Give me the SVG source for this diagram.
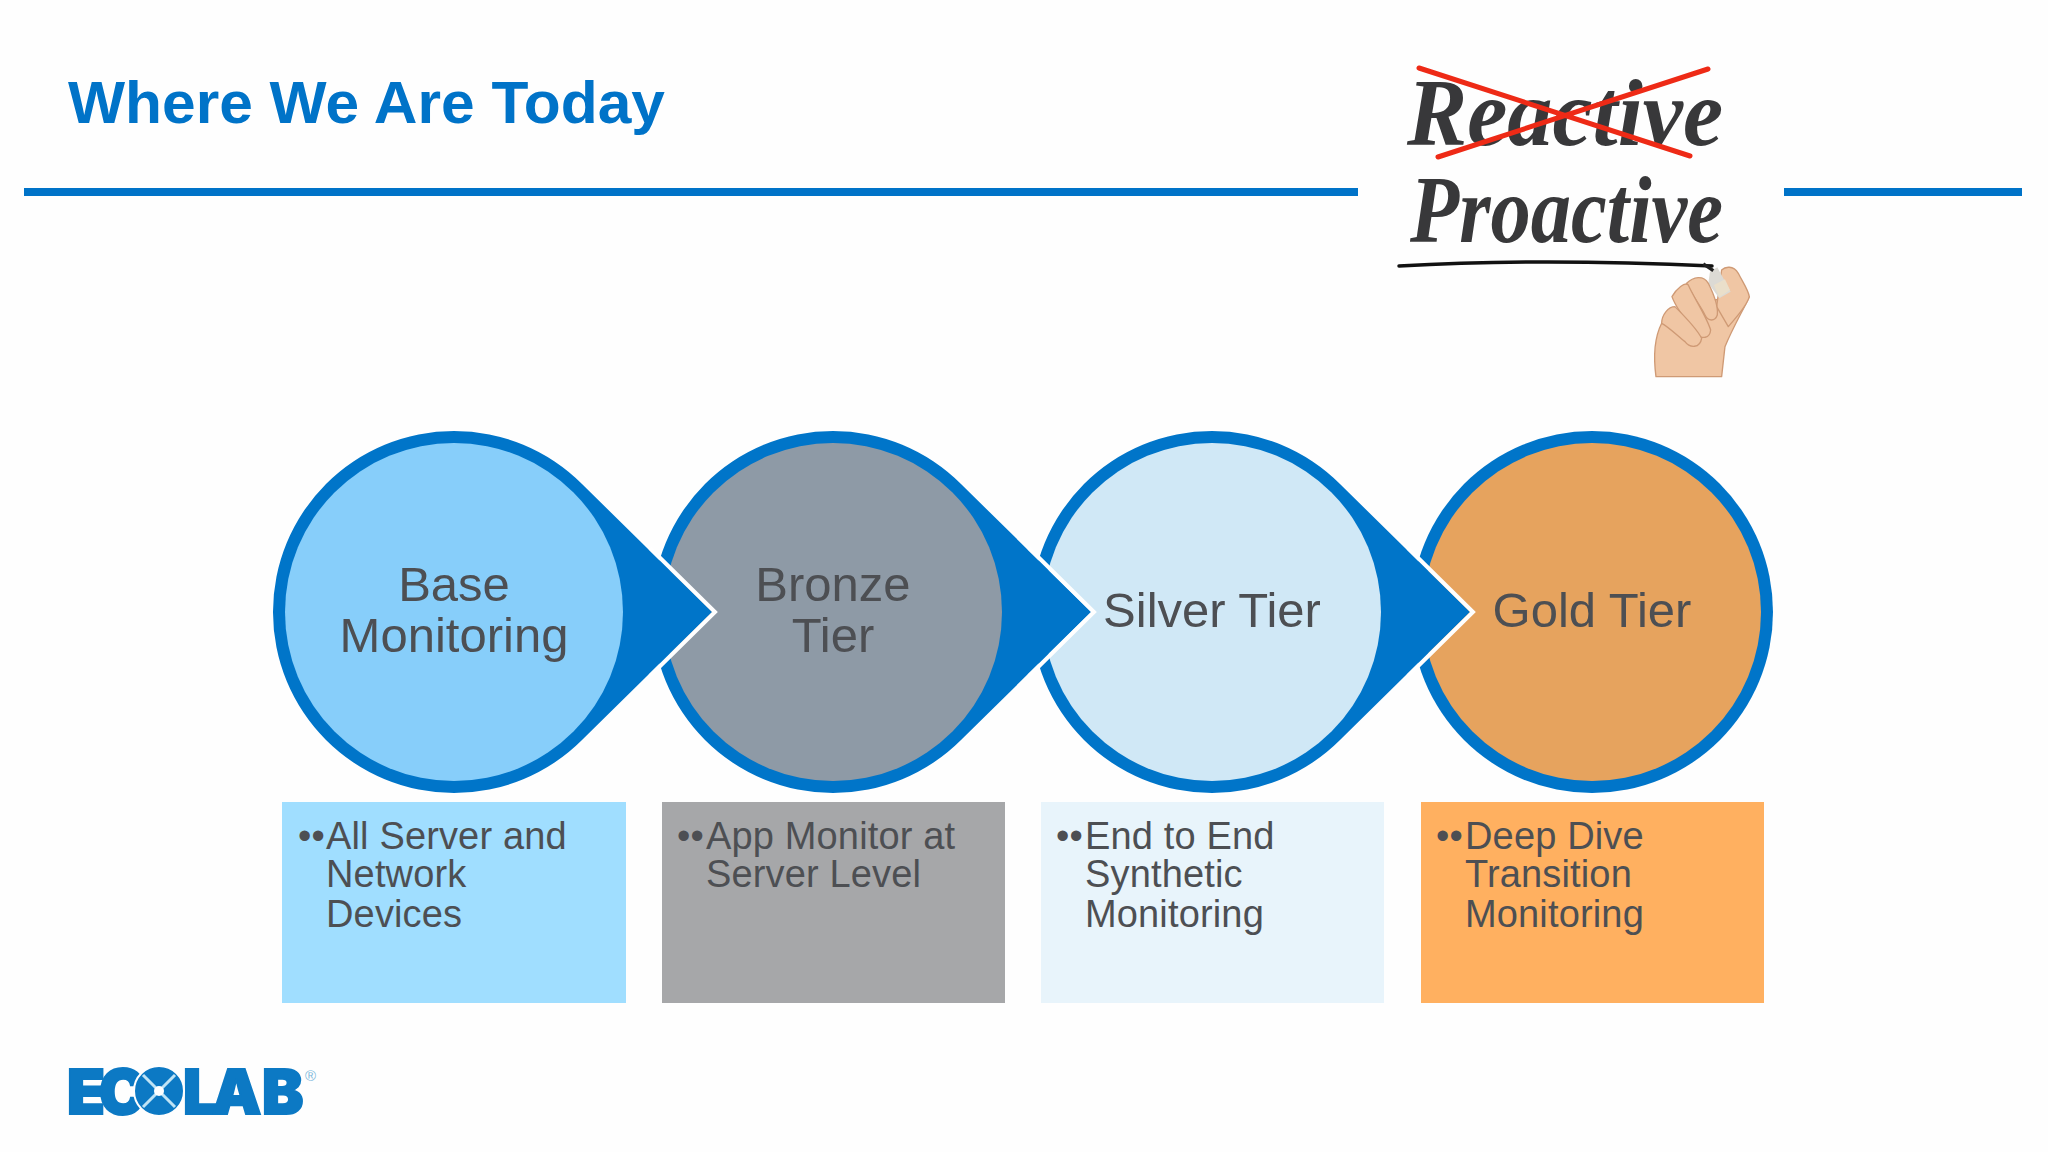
<svg xmlns="http://www.w3.org/2000/svg" width="2048" height="1152" viewBox="0 0 2048 1152">
<defs>
<path id="drop" d="M712 612 L582 740 A181 181 0 1 1 582 484 Z"/>
<path id="edge" d="M650 548 L715 612 L650 676" fill="none"/>
</defs>
<style>
text{font-family:"Liberation Sans",Arial,sans-serif;fill:#4d4f53}
.title{font-size:60px;font-weight:700;fill:#0073c8}
.rule{fill:#0073c8}
.drop{fill:#0075c9}
.edge{stroke:#fff;stroke-width:4;stroke-linejoin:miter;fill:none}
.c{font-size:49px;text-anchor:middle}
.b{font-size:38px;letter-spacing:.15px}
.hw{font-family:"Liberation Serif",serif;font-style:italic;font-weight:700;font-size:96px;fill:#38383a}
.cross{stroke:#ee2a16;stroke-width:5;stroke-linecap:round;fill:none}
.logo{font-family:Inter,"Liberation Sans",sans-serif;font-weight:900;font-size:62px;fill:#0c79c4;stroke:#0c79c4;stroke-width:2}
.skin{fill:#f0c6a4;stroke:#cf9a75;stroke-width:4;stroke-linejoin:round}
</style>
<rect width="2048" height="1152" fill="#fefefe"/>
<g id="header">
<text class="title" x="68" y="123" textLength="597" lengthAdjust="spacingAndGlyphs">Where We Are Today</text>
<rect class="rule" x="24" y="188" width="1334" height="8"/>
<rect class="rule" x="1784" y="188" width="238" height="8"/>
</g>
<g id="picture">
<text class="hw" x="1407" y="145" textLength="316" lengthAdjust="spacingAndGlyphs">Reactive</text>
<path class="cross" d="M1419 68 L1690 156 M1438 157 L1708 69"/>
<text class="hw" x="1410" y="242" textLength="313" lengthAdjust="spacingAndGlyphs">Proactive</text>
<path d="M1399 266 Q1540 258 1712 266" fill="none" stroke="#111" stroke-width="3.5" stroke-linecap="round"/>
<g transform="translate(1360 40) scale(.3333)">
<path class="skin" d="M888 1010 C880 950 885 890 905 850 L1060 780 L1168 770 C1150 810 1120 860 1095 920 L1085 1010 Z" stroke="none"/>
<path class="skin" d="M1085 690 C1095 680 1120 675 1135 700 C1150 730 1165 750 1168 770 C1160 800 1130 830 1105 860 L1070 800 Z"/>
<path d="M1050 695 L1072 682 L1112 755 L1078 775 L1045 730 Z" fill="#dcdad4"/>
<path d="M1062 735 L1095 718 L1110 750 L1078 772 Z" fill="#eadfca"/>
<path d="M1030 672 L1060 692" stroke="#222" stroke-width="10"/>
<path class="skin" d="M980 730 C1000 710 1030 705 1045 730 C1060 760 1075 800 1072 825 C1065 845 1045 845 1035 825 C1020 795 995 765 980 730 Z"/>
<path class="skin" d="M936 770 C950 745 975 725 985 735 C1000 770 1040 830 1052 870 C1050 895 1025 900 1010 880 C985 850 950 810 936 770 Z"/>
<path class="skin" d="M905 850 C905 825 925 800 945 800 C975 830 1015 875 1025 895 C1020 925 990 925 975 905 C950 885 925 860 905 850 Z"/>
</g>
</g>
<g id="node-gold">
<circle cx="1592" cy="612" r="181" fill="#0075c9"/>
<circle cx="1592" cy="612" r="169" fill="#e6a35e"/>
<text class="c" x="1592" y="627">Gold Tier</text>
<rect x="1421" y="802" width="343" height="201" fill="#ffb060"/>
<text class="b" x="1436" y="849">••</text>
<text class="b" x="1465" y="849">Deep Dive</text>
<text class="b" x="1465" y="887">Transition</text>
<text class="b" x="1465" y="927">Monitoring</text>
</g>
<g id="node-silver">
<use href="#drop" class="drop" transform="translate(758 0)"/>
<use href="#edge" class="edge" transform="translate(758 0)"/>
<circle cx="1212" cy="612" r="169" fill="#d0e8f6"/>
<text class="c" x="1212" y="627">Silver Tier</text>
<rect x="1041" y="802" width="343" height="201" fill="#e8f4fb"/>
<text class="b" x="1056" y="849">••</text>
<text class="b" x="1085" y="849">End to End</text>
<text class="b" x="1085" y="887">Synthetic</text>
<text class="b" x="1085" y="927">Monitoring</text>
</g>
<g id="node-bronze">
<use href="#drop" class="drop" transform="translate(379 0)"/>
<use href="#edge" class="edge" transform="translate(379 0)"/>
<circle cx="833" cy="612" r="169" fill="#8e9aa6"/>
<text class="c" x="833" y="601">Bronze</text>
<text class="c" x="833" y="652">Tier</text>
<rect x="662" y="802" width="343" height="201" fill="#a6a7a9"/>
<text class="b" x="677" y="849">••</text>
<text class="b" x="706" y="849">App Monitor at</text>
<text class="b" x="706" y="887">Server Level</text>
</g>
<g id="node-base">
<use href="#drop" class="drop"/>
<use href="#edge" class="edge"/>
<circle cx="454" cy="612" r="169" fill="#87cefa"/>
<text class="c" x="454" y="601">Base</text>
<text class="c" x="454" y="652">Monitoring</text>
<rect x="282" y="802" width="344" height="201" fill="#a0deff"/>
<text class="b" x="298" y="849">••</text>
<text class="b" x="326" y="849">All Server and</text>
<text class="b" x="326" y="887">Network</text>
<text class="b" x="326" y="927">Devices</text>
</g>
<g id="logo">
<text class="logo" x="67 99 135 183 212 262" y="1114">ECOLAB</text>
<circle cx="159" cy="1091" r="25" fill="#0c79c4" stroke="#fefefe" stroke-width="2"/>
<path d="M143 1075 L175 1107 M175 1075 L143 1107" stroke="#bfe3f5" stroke-width="3"/>
<circle cx="159" cy="1091" r="5" fill="#fff"/>
<text x="305" y="1081" font-size="15" style="fill:#7fb9dc">®</text>
</g>
</svg>
